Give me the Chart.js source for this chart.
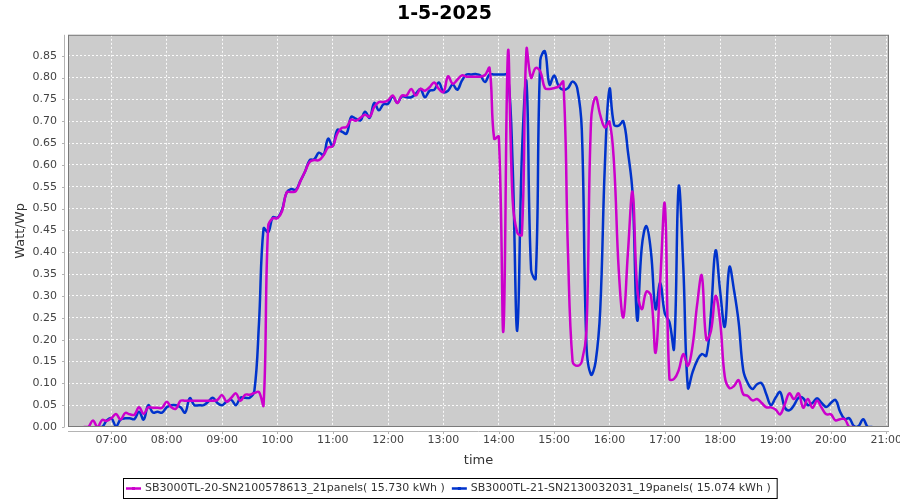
<!DOCTYPE html>
<html>
<head>
<meta charset="utf-8">
<script src="https://cdn.jsdelivr.net/npm/chart.js@4.4.1/dist/chart.umd.min.js"></script>
<style>
  html, body { margin: 0; padding: 0; background: #fff; }
</style>
</head>
<body>
<canvas id="chart" width="900" height="500"></canvas>
<script>
// sample times in minutes after midnight (5 minute steps)
const times = [
    390, 395, 400, 405, 410, 415,
    420, 425, 430, 435, 440, 445, 450, 455, 460, 465, 470, 475,
    480, 485, 490, 495, 500, 505, 510, 515, 520, 525, 530, 535,
    540, 545, 550, 555, 560, 565, 570, 575, 580, 585, 590, 595,
    600, 605, 610, 615, 620, 625, 630, 635, 640, 645, 650, 655,
    660, 665, 670, 675, 680, 685, 690, 695, 700, 705, 710, 715,
    720, 725, 730, 735, 740, 745, 750, 755, 760, 765, 770, 775,
    780, 785, 790, 795, 800, 805, 810, 815, 820, 825, 830, 835,
    840, 845, 850, 855, 860, 865, 870, 875, 880, 885, 890, 895,
    900, 905, 910, 915, 920, 925, 930, 935, 940, 945, 950, 955,
    960, 965, 970, 975, 980, 985, 990, 995, 1000, 1005, 1010, 1015,
    1020, 1025, 1030, 1035, 1040, 1045, 1050, 1055, 1060, 1065, 1070, 1075,
    1080, 1085, 1090, 1095, 1100, 1105, 1110, 1115, 1120, 1125, 1130, 1135,
    1140, 1145, 1150, 1155, 1160, 1165, 1170, 1175, 1180, 1185, 1190, 1195,
    1200, 1205, 1210, 1215, 1220, 1225, 1230, 1235, 1240, 1245
];

const sb20Name = 'SB3000TL-20-SN2100578613_21panels( 15.730 kWh )';
const sb20 = [
    0.000, 0.000, 0.015, 0.000, 0.016, 0.014,
    0.020, 0.030, 0.017, 0.032, 0.029, 0.028, 0.045, 0.030, 0.045, 0.044, 0.044, 0.044,
    0.058, 0.045, 0.042, 0.060, 0.060, 0.060, 0.060, 0.060, 0.060, 0.060, 0.060, 0.062,
    0.073, 0.058, 0.067, 0.077, 0.060, 0.074, 0.074, 0.078, 0.080, 0.050, 0.460, 0.478,
    0.478, 0.494, 0.537, 0.538, 0.540, 0.563, 0.585, 0.607, 0.611, 0.611, 0.622, 0.640,
    0.643, 0.672, 0.685, 0.687, 0.704, 0.701, 0.708, 0.715, 0.710, 0.733, 0.744, 0.744,
    0.748, 0.759, 0.742, 0.759, 0.759, 0.774, 0.759, 0.774, 0.770, 0.778, 0.789, 0.774,
    0.767, 0.803, 0.786, 0.795, 0.805, 0.802, 0.802, 0.802, 0.802, 0.806, 0.822, 0.660,
    0.665, 0.220, 0.860, 0.520, 0.445, 0.440, 0.865, 0.800, 0.822, 0.814, 0.776, 0.774,
    0.776, 0.780, 0.790, 0.400, 0.150, 0.140, 0.150, 0.220, 0.700, 0.755, 0.714, 0.686,
    0.699, 0.600, 0.360, 0.251, 0.400, 0.538, 0.320, 0.270, 0.310, 0.300, 0.170, 0.335,
    0.510, 0.110, 0.110, 0.130, 0.167, 0.140, 0.185, 0.280, 0.347, 0.200, 0.220, 0.300,
    0.240, 0.115, 0.089, 0.094, 0.107, 0.075, 0.071, 0.061, 0.064, 0.055, 0.045, 0.045,
    0.040, 0.029, 0.052, 0.077, 0.064, 0.077, 0.044, 0.064, 0.044, 0.060, 0.044, 0.029,
    0.029, 0.015, 0.018, 0.018, 0.000, 0.000, null, null, null, null
];

const sb21Name = 'SB3000TL-21-SN2130032031_19panels( 15.074 kWh )';
const sb21 = [
    null, null, null, 0.000, 0.000, 0.015,
    0.020, 0.002, 0.017, 0.020, 0.020, 0.018, 0.035, 0.017, 0.050, 0.033, 0.035, 0.033,
    0.045, 0.050, 0.050, 0.045, 0.033, 0.066, 0.050, 0.050, 0.050, 0.058, 0.067, 0.055,
    0.050, 0.058, 0.062, 0.050, 0.067, 0.067, 0.067, 0.082, 0.236, 0.455, 0.446, 0.480,
    0.479, 0.497, 0.537, 0.545, 0.543, 0.564, 0.585, 0.611, 0.613, 0.628, 0.623, 0.660,
    0.643, 0.680, 0.676, 0.672, 0.710, 0.706, 0.702, 0.722, 0.708, 0.742, 0.725, 0.739,
    0.740, 0.757, 0.742, 0.757, 0.755, 0.755, 0.763, 0.774, 0.755, 0.770, 0.772, 0.789,
    0.767, 0.770, 0.784, 0.772, 0.793, 0.807, 0.807, 0.808, 0.805, 0.790, 0.807, 0.807,
    0.807, 0.807, 0.806, 0.600, 0.220, 0.620, 0.790, 0.360, 0.340, 0.840, 0.860, 0.784,
    0.805, 0.780, 0.772, 0.776, 0.791, 0.776, 0.680, 0.190, 0.120, 0.150, 0.270, 0.600,
    0.774, 0.692, 0.690, 0.700, 0.630, 0.535, 0.245, 0.412, 0.460, 0.400, 0.270, 0.330,
    0.260, 0.240, 0.180, 0.550, 0.366, 0.090, 0.125, 0.152, 0.167, 0.163, 0.260, 0.404,
    0.310, 0.230, 0.366, 0.313, 0.240, 0.130, 0.100, 0.087, 0.098, 0.100, 0.075, 0.050,
    0.067, 0.080, 0.045, 0.038, 0.050, 0.067, 0.066, 0.050, 0.055, 0.066, 0.055, 0.046,
    0.055, 0.062, 0.035, 0.018, 0.020, 0.002, 0.002, 0.018, 0.000, 0.000
];

// axis ticks
const hourTicks = [420, 480, 540, 600, 660, 720, 780, 840, 900, 960, 1020, 1080, 1140, 1200, 1260];
const yTicks = [0, 0.05, 0.10, 0.15, 0.20, 0.25, 0.30, 0.35, 0.40, 0.45, 0.50, 0.55, 0.60, 0.65, 0.70, 0.75, 0.80, 0.85];

const FONT = '"DejaVu Sans", sans-serif';

function toPoints(values) {
    return times.map((t, i) => ({ x: t, y: values[i] }));
}

function hourLabel(v) {
    return String(Math.floor(v / 60)).padStart(2, '0') + ':00';
}

function drawLegend(chart) {
    const ctx = chart.ctx;
    const lineLen = 15, gap = 4, pad = 3, between = 7;
    ctx.save();
    ctx.font = '11px ' + FONT;
    const items = chart.data.datasets.map(ds => ({
        text: ds.label,
        color: ds.borderColor,
        w: ctx.measureText(ds.label).width
    }));
    let total = pad * 2 + 3;
    items.forEach((it, i) => {
        total += lineLen + gap + it.w + (i < items.length - 1 ? between : 0);
    });
    const top = chart.height - 22;
    const h = 20;
    let x = Math.round((chart.width - total) / 2);
    ctx.strokeStyle = '#000';
    ctx.lineWidth = 1;
    ctx.strokeRect(x + 0.5, top + 0.5, total, h);
    x += pad;
    const cy = top + h / 2 + 0.5;
    items.forEach(it => {
        ctx.strokeStyle = it.color;
        ctx.lineWidth = 2.5;
        ctx.beginPath();
        ctx.moveTo(x, cy);
        ctx.lineTo(x + lineLen, cy);
        ctx.stroke();
        ctx.fillStyle = it.color;
        ctx.fillRect(x + lineLen / 2 - 1.5, cy - 1.5, 3, 3);
        x += lineLen + gap;
        ctx.fillStyle = '#333';
        ctx.textBaseline = 'middle';
        ctx.fillText(it.text, x, cy);
        x += it.w + between;
    });
    ctx.restore();
}

const plotFrame = {
    id: 'plotFrame',
    beforeDraw(chart) {
        const { ctx, chartArea: a } = chart;
        ctx.save();
        ctx.fillStyle = '#ffffff';
        ctx.fillRect(0, 0, chart.width, chart.height);
        ctx.fillStyle = '#cccccc';
        ctx.fillRect(a.left, a.top, a.right - a.left, a.bottom - a.top);
        ctx.restore();
    },
    afterDraw(chart) {
        const { ctx, chartArea: a, scales } = chart;
        ctx.save();
        ctx.lineWidth = 1;
        ctx.strokeStyle = '#7a7a7a';
        ctx.strokeRect(a.left + 0.5, a.top + 0.5, a.right - a.left - 1, a.bottom - a.top - 1);

        // detached axis lines with small tick marks, like the source chart
        ctx.strokeStyle = '#b4b4b4';
        ctx.beginPath();
        ctx.moveTo(a.left - 3.5, a.top);
        ctx.lineTo(a.left - 3.5, a.bottom);
        ctx.moveTo(a.left, a.bottom + 4.5);
        ctx.lineTo(a.right, a.bottom + 4.5);
        scales.y.ticks.forEach(t => {
            const y = Math.round(scales.y.getPixelForValue(t.value)) + 0.5;
            ctx.moveTo(a.left - 6, y);
            ctx.lineTo(a.left - 3.5, y);
        });
        scales.x.ticks.forEach(t => {
            const x = Math.round(scales.x.getPixelForValue(t.value)) + 0.5;
            ctx.moveTo(x, a.bottom + 4.5);
            ctx.lineTo(x, a.bottom + 7);
        });
        ctx.stroke();
        ctx.restore();

        drawLegend(chart);
    }
};

const ctx = document.getElementById('chart').getContext('2d');
new Chart(ctx, {
    type: 'line',
    data: {
        datasets: [
            {
                label: sb20Name,
                data: toPoints(sb20),
                borderColor: '#cc00cc',
                backgroundColor: '#cc00cc',
                borderWidth: 2.5,
                pointRadius: 0,
                tension: 0.4,
                fill: false
            },
            {
                label: sb21Name,
                data: toPoints(sb21),
                borderColor: '#0033cc',
                backgroundColor: '#0033cc',
                borderWidth: 2.5,
                pointRadius: 0,
                tension: 0.4,
                fill: false
            }
        ]
    },
    options: {
        responsive: false,
        animation: false,
        layout: {
            padding: { left: 0, right: 11, top: 0, bottom: 30 }
        },
        plugins: {
            legend: { display: false },
            tooltip: { enabled: false },
            title: {
                display: true,
                text: '1-5-2025',
                color: '#000',
                font: { family: FONT, size: 19, weight: 'bold' },
                padding: { top: 3, bottom: 9 }
            }
        },
        scales: {
            x: {
                type: 'linear',
                min: 373,
                max: 1263,
                afterBuildTicks: s => { s.ticks = hourTicks.map(v => ({ value: v })); },
                afterFit: s => {
                    s.height = 43;
                    s.paddingLeft = 0;
                    s.paddingRight = 0;
                },
                grid: { color: 'rgba(255,255,255,0.9)', drawTicks: false },
                border: { display: false, dash: [2, 2] },
                ticks: {
                    color: '#444',
                    font: { family: FONT, size: 11 },
                    padding: 7,
                    maxRotation: 0,
                    autoSkip: false,
                    callback: v => hourLabel(v)
                },
                title: {
                    display: true,
                    text: 'time',
                    color: '#333',
                    font: { family: FONT, size: 13 },
                    padding: { top: 0, bottom: 2 }
                }
            },
            y: {
                min: 0,
                max: 0.898,
                afterBuildTicks: s => { s.ticks = yTicks.map(v => ({ value: v })); },
                afterFit: s => {
                    s.width = 68;
                    s.paddingTop = 0;
                    s.paddingBottom = 0;
                },
                grid: { color: 'rgba(255,255,255,0.9)', drawTicks: false },
                border: { display: false, dash: [2, 2] },
                ticks: {
                    color: '#444',
                    font: { family: FONT, size: 11 },
                    padding: 11,
                    callback: v => v.toFixed(2)
                },
                title: {
                    display: true,
                    text: 'Watt/Wp',
                    color: '#333',
                    font: { family: FONT, size: 13 },
                    padding: { top: 13, bottom: 0 }
                }
            }
        }
    },
    plugins: [plotFrame]
});
</script>
</body>
</html>
